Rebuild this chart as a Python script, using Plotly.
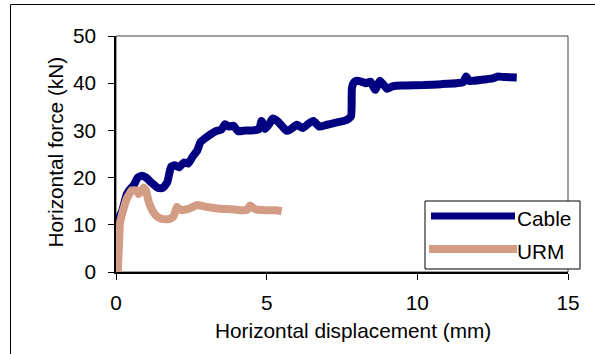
import plotly.graph_objects as go

# ---- data ----
cable_x = [0.0, 0.19, 0.36, 0.46, 0.6, 0.72, 0.87, 1.0, 1.2, 1.4, 1.55, 1.7, 1.83, 1.95, 2.1,
           2.25, 2.4, 2.55, 2.7, 2.8, 2.95, 3.1, 3.3, 3.5, 3.62, 3.75, 3.9, 4.05, 4.3, 4.55,
           4.75, 4.83, 4.95, 5.1, 5.2, 5.35, 5.5, 5.67, 5.85, 6.0, 6.2, 6.4, 6.55, 6.75, 7.0,
           7.2, 7.4, 7.55, 7.7, 7.8, 7.83, 7.9, 8.0, 8.15, 8.3, 8.45, 8.6, 8.75, 8.9, 9.0,
           9.2, 9.6, 10.2, 10.8, 11.3, 11.52, 11.62, 11.72, 11.85, 12.2, 12.5, 12.65, 12.9, 13.3]
cable_y = [10.3, 12.7, 16.5, 17.5, 18.5, 20.0, 20.4, 20.0, 18.8, 17.8, 17.8, 19.0, 22.3, 22.6, 22.2,
           23.2, 23.0, 24.5, 25.8, 27.5, 28.3, 29.0, 29.8, 30.2, 31.3, 30.8, 31.0, 29.8, 30.0, 30.0,
           30.3, 32.0, 30.3, 31.5, 32.5, 32.0, 31.0, 29.9, 30.5, 31.2, 30.5, 31.5, 32.0, 30.8, 31.2,
           31.5, 31.8, 32.0, 32.4, 33.0, 39.0, 40.2, 40.5, 40.3, 40.0, 40.3, 38.6, 40.5, 39.5, 38.8,
           39.4, 39.5, 39.6, 39.8, 40.0, 40.2, 41.4, 40.5, 40.5, 40.8, 41.0, 41.4, 41.3, 41.2]

urm_x = [0.06, 0.1, 0.13, 0.19, 0.28, 0.36, 0.45, 0.52, 0.69, 0.76, 0.82, 0.92, 1.0, 1.07, 1.15,
         1.24, 1.35, 1.46, 1.6, 1.75, 1.9, 1.95, 2.02, 2.1, 2.18, 2.46, 2.7, 2.85, 3.0, 3.45,
         3.8, 4.12, 4.35, 4.45, 4.55, 4.67, 5.0, 5.3, 5.5]
urm_y = [0.0, 6.0, 10.2, 12.0, 14.0, 15.6, 16.6, 17.3, 17.3, 16.5, 17.0, 17.9, 17.2, 15.2, 13.8,
         12.7, 11.8, 11.4, 11.2, 11.2, 11.7, 12.5, 13.8, 13.4, 13.1, 13.5, 14.2, 14.0, 13.8, 13.4,
         13.3, 13.1, 13.2, 14.1, 13.6, 13.2, 13.1, 13.1, 12.9]

series_names = ["Cable", "URM"]
x_ticks = [0, 5, 10, 15]
y_ticks = [0, 10, 20, 30, 40, 50]
x_title = "Horizontal displacement (mm)"
y_title = "Horizontal force (kN)"

CABLE_COLOR = "#000080"
URM_COLOR = "#D39C85"
FONT = "Arial, 'Liberation Sans', sans-serif"
FS = 20.8

# ---- figure geometry (pixels) ----
W, H = 595, 354
L, R, T, B = 116, 27, 36, 82
PW, PH = W - L - R, H - T - B


def px(xp):
    return (xp - L) / PW


def py(yp):
    return (H - B - yp) / PH


fig = go.Figure()
fig.add_trace(go.Scatter(x=cable_x, y=cable_y, mode="lines", name=series_names[0],
                         line=dict(color=CABLE_COLOR, width=8, shape="spline", smoothing=0.5)))
fig.add_trace(go.Scatter(x=urm_x, y=urm_y, mode="lines", name=series_names[1],
                         line=dict(color=URM_COLOR, width=8, shape="spline", smoothing=0.4)))

shapes = [
    # plot area frame (top / right)
    dict(type="rect", xref="paper", yref="paper", x0=0, y0=0, x1=1, y1=1,
         line=dict(color="#404040", width=1), layer="below"),
    # outer chart border (top & left visible in the crop)
    dict(type="line", xref="paper", yref="paper", x0=px(10.5), x1=px(600), y0=py(4.5), y1=py(4.5),
         line=dict(color="black", width=1)),
    dict(type="line", xref="paper", yref="paper", x0=px(10.5), x1=px(10.5), y0=py(4.5), y1=py(360),
         line=dict(color="black", width=1)),
    # legend box
    dict(type="rect", xref="paper", yref="paper", x0=px(425), x1=px(580), y0=py(269), y1=py(201),
         line=dict(color="black", width=1), fillcolor="white"),
    # legend samples
    dict(type="line", xref="paper", yref="paper", x0=px(431), x1=px(515), y0=py(216), y1=py(216),
         line=dict(color=CABLE_COLOR, width=7)),
    dict(type="line", xref="paper", yref="paper", x0=px(429), x1=px(517), y0=py(249), y1=py(249),
         line=dict(color=URM_COLOR, width=8)),
]

annotations = [
    dict(text=series_names[0], xref="paper", yref="paper", x=px(515), y=py(218.5),
         xanchor="left", yanchor="middle", showarrow=False, font=dict(size=FS, color="black", family=FONT)),
    dict(text=series_names[1], xref="paper", yref="paper", x=px(515), y=py(251),
         xanchor="left", yanchor="middle", showarrow=False, font=dict(size=FS, color="black", family=FONT)),
    dict(text=x_title, xref="paper", yref="paper", x=px(353), y=py(330),
         xanchor="center", yanchor="middle", showarrow=False, font=dict(size=FS, color="black", family=FONT)),
    dict(text=y_title, xref="paper", yref="paper", x=px(55), y=py(152.5), textangle=-90,
         xanchor="center", yanchor="middle", showarrow=False, font=dict(size=FS, color="black", family=FONT)),
]

fig.update_layout(
    width=W, height=H,
    margin=dict(l=L, r=R, t=T, b=B, pad=0),
    paper_bgcolor="white", plot_bgcolor="white",
    showlegend=False,
    font=dict(family=FONT, size=FS, color="black"),
    shapes=shapes,
    annotations=annotations,
    xaxis=dict(range=[0, 15], tickvals=x_ticks, ticktext=[str(v) for v in x_ticks],
               showgrid=False, zeroline=False, showline=True, linecolor="black", linewidth=2,
               ticks="outside", ticklen=6, tickwidth=1, tickcolor="black",
               tickfont=dict(size=FS, family=FONT, color="black"), ticklabelstandoff=5),
    yaxis=dict(range=[0, 50], tickvals=y_ticks, ticktext=[str(v) for v in y_ticks],
               showgrid=False, zeroline=False, showline=True, linecolor="black", linewidth=1.5,
               ticks="outside", ticklen=6, tickwidth=1, tickcolor="black",
               tickfont=dict(size=FS, family=FONT, color="black"), ticklabelstandoff=8),
)

fig.write_html("out.html", config={"displayModeBar": False},
               post_script="document.body.style.margin='0px';")
